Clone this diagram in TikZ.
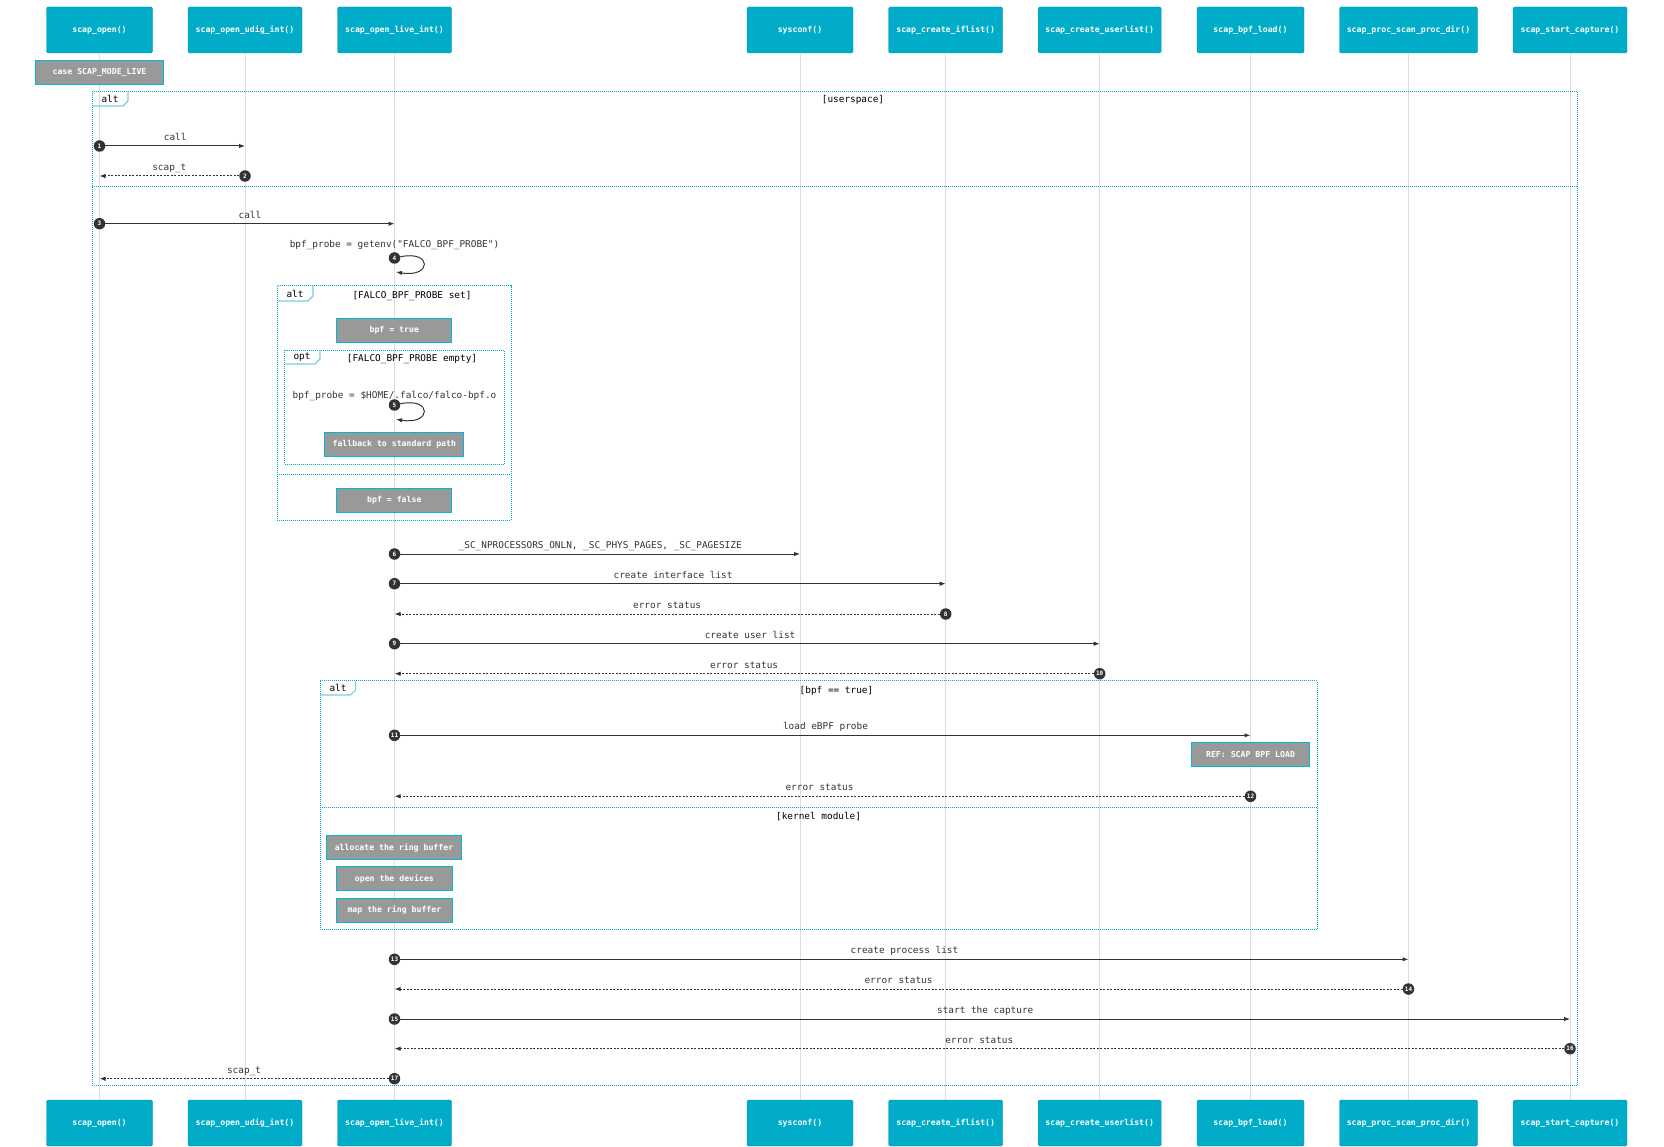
\documentclass[tikz,border=0pt]{standalone}
\usepackage{fontspec}
\setmonofont{DejaVu Sans Mono}
\usetikzlibrary{arrows.meta}
\definecolor{actorfill}{RGB}{0,172,200}
\definecolor{actorline}{RGB}{0,145,172}
\definecolor{notefill}{RGB}{153,153,153}
\definecolor{noteline}{RGB}{0,185,212}
\definecolor{fragcol}{RGB}{0,172,200}
\definecolor{tabcol}{RGB}{120,205,222}
\definecolor{lifecol}{RGB}{221,221,221}
\definecolor{msgcol}{RGB}{51,51,51}
\begin{document}
\begin{tikzpicture}[x=1pt,y=-1pt,
  actor/.style={draw=actorline,fill=actorfill,text=white,font=\ttfamily\bfseries\fontsize{8.2}{10}\selectfont,minimum height=46pt,inner sep=0pt,rounded corners=1.5pt},
  note/.style={draw=noteline,fill=notefill,text=white,font=\ttfamily\bfseries\fontsize{8.2}{10}\selectfont,minimum height=24pt,inner sep=0pt,line width=1pt},
  lifeline/.style={draw=lifecol,line width=1pt},
  fragbox/.style={draw=fragcol,line width=1pt,dash pattern=on 1pt off 1pt},
  fragtab/.style={draw=tabcol,line width=1.2pt},
  seq/.style={circle,fill=msgcol,text=white,inner sep=0pt,minimum size=11.5pt,font=\ttfamily\bfseries\fontsize{6}{6}\selectfont},
  msg/.style={draw=msgcol,line width=1pt,-{Latex[length=6pt,width=4.5pt]}},
  reply/.style={msg,dash pattern=on 2pt off 1.5pt},
  lbl/.style={font=\ttfamily\fontsize{9.4}{11}\selectfont,text=msgcol,anchor=base,inner sep=0pt},
  flbl/.style={font=\ttfamily\fontsize{9.4}{11}\selectfont,text=black,inner sep=0pt}]
  \useasboundingbox (0,0) rectangle (1664,1147);
  % Participants, top and bottom
  \node[actor,minimum width=106pt] (openT) at (99.5,30) {scap\_open()};
  \node[actor,minimum width=114pt] (udigT) at (245,30) {scap\_open\_udig\_int()};
  \node[actor,minimum width=114pt] (liveT) at (394.5,30) {scap\_open\_live\_int()};
  \node[actor,minimum width=106pt] (sysT) at (800,30) {sysconf()};
  \node[actor,minimum width=114pt] (iflT) at (945.7,30) {scap\_create\_iflist()};
  \node[actor,minimum width=123pt] (usrT) at (1099.7,30) {scap\_create\_userlist()};
  \node[actor,minimum width=107pt] (bpfT) at (1250.5,30) {scap\_bpf\_load()};
  \node[actor,minimum width=138pt] (procT) at (1408.5,30) {scap\_proc\_scan\_proc\_dir()};
  \node[actor,minimum width=114pt] (capT) at (1570,30) {scap\_start\_capture()};
  \node[actor,minimum width=106pt] (openB) at (99.5,1123) {scap\_open()};
  \node[actor,minimum width=114pt] (udigB) at (245,1123) {scap\_open\_udig\_int()};
  \node[actor,minimum width=114pt] (liveB) at (394.5,1123) {scap\_open\_live\_int()};
  \node[actor,minimum width=106pt] (sysB) at (800,1123) {sysconf()};
  \node[actor,minimum width=114pt] (iflB) at (945.7,1123) {scap\_create\_iflist()};
  \node[actor,minimum width=123pt] (usrB) at (1099.7,1123) {scap\_create\_userlist()};
  \node[actor,minimum width=107pt] (bpfB) at (1250.5,1123) {scap\_bpf\_load()};
  \node[actor,minimum width=138pt] (procB) at (1408.5,1123) {scap\_proc\_scan\_proc\_dir()};
  \node[actor,minimum width=114pt] (capB) at (1570,1123) {scap\_start\_capture()};
  % Lifelines
  \draw[lifeline] (openT) -- (openB);
  \draw[lifeline] (udigT) -- (udigB);
  \draw[lifeline] (liveT) -- (liveB);
  \draw[lifeline] (sysT) -- (sysB);
  \draw[lifeline] (iflT) -- (iflB);
  \draw[lifeline] (usrT) -- (usrB);
  \draw[lifeline] (bpfT) -- (bpfB);
  \draw[lifeline] (procT) -- (procB);
  \draw[lifeline] (capT) -- (capB);
  \node[note,minimum width=128pt] (mode) at (99.5,72.5) {case SCAP\_MODE\_LIVE};
  % Outer alt: userspace
  \draw[fragbox] (92,91.3) rectangle (1577.5,1085.3);
  \draw[fragtab] (128,91.3) -- (128,101) -- (123,106) -- (92,106);
  \node[flbl] (alt1) at (110,99) {alt};
  \node[flbl] (g1) at (853,100) {[userspace]};
  \draw[fragbox] (92,187) -- (1577.5,187);
  \node[seq] (n1) at (99.5,146) {1};
  \draw[msg] (n1) -- (n1 -| udigT) node[lbl,midway,yshift=5.5pt] {call};
  \node[seq] (n2) at (245,176) {2};
  \draw[reply] (n2) -- (n2 -| openT) node[lbl,midway,yshift=5.5pt] {scap\_t};
  \node[seq] (n3) at (99.5,223.7) {3};
  \draw[msg] (n3) -- (n3 -| liveT) node[lbl,midway,yshift=5.5pt] {call};
  \node[lbl] (l4) at (394.5,248) {bpf\_probe = getenv("FALCO\_BPF\_PROBE")};
  \node[seq] (n4) at (394.5,258) {4};
  \coordinate (r4) at (396,272);
  \draw[msg] (n4) .. controls +(38,-8) and +(36,6) .. (r4);
  % Inner alt: probe set
  \draw[fragbox] (277.3,285.7) rectangle (511,520);
  \draw[fragtab] (313,285.7) -- (313,296) -- (308,301) -- (277.3,301);
  \node[flbl] (alt2) at (295,293.5) {alt};
  \node[flbl] (g2) at (412,295.7) {[FALCO\_BPF\_PROBE set]};
  \node[note,minimum width=114.7pt] (bpftrue) at (394.3,330.5) {bpf = true};
  \draw[fragbox] (284.7,350) rectangle (504.3,464);
  \draw[fragtab] (320,350) -- (320,359) -- (315,364) -- (284.7,364);
  \node[flbl] (opt1) at (302,357.5) {opt};
  \node[flbl] (g3) at (412,359) {[FALCO\_BPF\_PROBE empty]};
  \node[lbl] (l5) at (394.5,398.5) {bpf\_probe = \$HOME/.falco/falco-bpf.o};
  \node[seq] (n5) at (394.5,405) {5};
  \coordinate (r5) at (396,419.3);
  \draw[msg] (n5) .. controls +(38,-8) and +(36,6) .. (r5);
  \node[note,minimum width=138.7pt] (fallback) at (394.3,444.7) {fallback to standard path};
  \draw[fragbox] (277.3,474.7) -- (511,474.7);
  \node[note,minimum width=114.7pt] (bpffalse) at (394.3,500.7) {bpf = false};
  % sysconf, interface and user lists
  \node[seq] (n6) at (394.5,554) {6};
  \draw[msg] (n6) -- (n6 -| sysT) node[lbl,midway,yshift=5.5pt] {\_SC\_NPROCESSORS\_ONLN, \_SC\_PHYS\_PAGES, \_SC\_PAGESIZE};
  \node[seq] (n7) at (394.5,583.7) {7};
  \draw[msg] (n7) -- (n7 -| iflT) node[lbl,midway,yshift=5.5pt] {create interface list};
  \node[seq] (n8) at (945.7,614) {8};
  \draw[reply] (n8) -- (n8 -| liveT) node[lbl,midway,yshift=5.5pt] {error status};
  \node[seq] (n9) at (394.5,643.7) {9};
  \draw[msg] (n9) -- (n9 -| usrT) node[lbl,midway,yshift=5.5pt] {create user list};
  \node[seq] (n10) at (1099.7,673.7) {10};
  \draw[reply] (n10) -- (n10 -| liveT) node[lbl,midway,yshift=5.5pt] {error status};
  % alt: bpf or kernel module
  \draw[fragbox] (320,680.7) rectangle (1317.2,929);
  \draw[fragtab] (355.6,680.7) -- (355.6,690) -- (350.6,695) -- (320,695);
  \node[flbl] (alt3) at (338,688) {alt};
  \node[flbl] (g4) at (836.5,690.7) {[bpf == true]};
  \node[seq] (n11) at (394.5,735.3) {11};
  \draw[msg] (n11) -- (n11 -| bpfT) node[lbl,midway,yshift=5.5pt] {load eBPF probe};
  \node[note,minimum width=118.5pt] (ref) at (1250.5,754.5) {REF: SCAP BPF LOAD};
  \node[seq] (n12) at (1250.5,796.3) {12};
  \draw[reply] (n12) -- (n12 -| liveT) node[lbl,midway,yshift=5.5pt] {error status};
  \draw[fragbox] (320,807) -- (1317.2,807);
  \node[flbl] (g5) at (818.6,816.7) {[kernel module]};
  \node[note,minimum width=134.6pt] (alloc) at (394,847.7) {allocate the ring buffer};
  \node[note,minimum width=115.2pt] (devs) at (394.4,878.8) {open the devices};
  \node[note,minimum width=115.2pt] (mapbuf) at (394.4,910.3) {map the ring buffer};
  % process list and capture
  \node[seq] (n13) at (394.5,959.3) {13};
  \draw[msg] (n13) -- (n13 -| procT) node[lbl,midway,yshift=5.5pt] {create process list};
  \node[seq] (n14) at (1408.5,989) {14};
  \draw[reply] (n14) -- (n14 -| liveT) node[lbl,midway,yshift=5.5pt] {error status};
  \node[seq] (n15) at (394.5,1019) {15};
  \draw[msg] (n15) -- (n15 -| capT) node[lbl,midway,yshift=5.5pt] {start the capture};
  \node[seq] (n16) at (1570,1048.7) {16};
  \draw[reply] (n16) -- (n16 -| liveT) node[lbl,midway,yshift=5.5pt] {error status};
  \node[seq] (n17) at (394.5,1078.7) {17};
  \draw[reply] (n17) -- (n17 -| openT) node[lbl,midway,yshift=5.5pt] {scap\_t};
\end{tikzpicture}
\end{document}
